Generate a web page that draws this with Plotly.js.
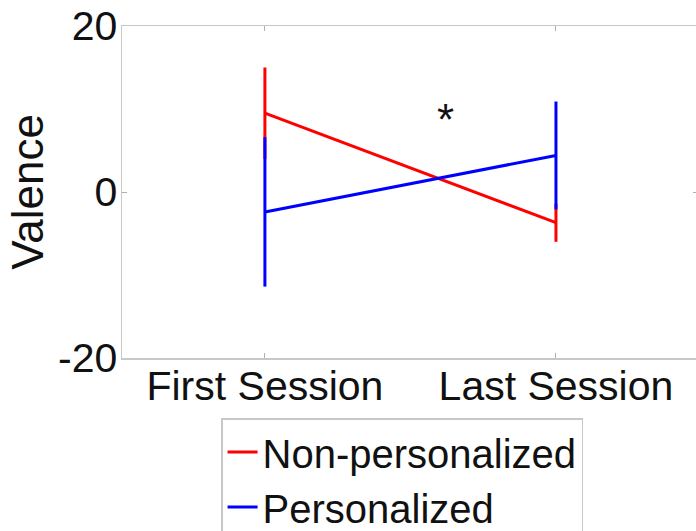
<!DOCTYPE html>
<html>
<head>
<meta charset="utf-8">
<script src="https://cdn.plot.ly/plotly-3.0.1.min.js"></script>
<style>
html,body{margin:0;padding:0;background:#fff;overflow:hidden;}
#chart{width:698px;height:531px;}
</style>
</head>
<body>
<div id="chart"></div>
<script>
// Data
var sessions = ['First Session', 'Last Session'];
var sessionPos = [1, 2];
var nonPersonalized = [9.5, -3.7];
var nonPersonalizedErr = [5.5, 2.3];
var personalized = [-2.4, 4.4];
var personalizedErr = [9.0, 6.5];
var yTicks = [-20, 0, 20];
var significance = {x: 1.62, y: 8.7, text: '*'};

var FONT = 'Liberation Sans, Arial, sans-serif';

var traces = [
  {
    x: sessionPos, y: nonPersonalized, name: 'Non-personalized',
    type: 'scatter', mode: 'lines',
    line: {color: '#ff0000', width: 3},
    error_y: {type: 'data', array: nonPersonalizedErr, visible: true, color: '#ff0000', thickness: 3, width: 0}
  },
  {
    x: sessionPos, y: personalized, name: 'Personalized',
    type: 'scatter', mode: 'lines',
    line: {color: '#0000ff', width: 3},
    error_y: {type: 'data', array: personalizedErr, visible: true, color: '#0000ff', thickness: 3, width: 0}
  }
];

var axisCommon = {
  showgrid: false, zeroline: false, showline: true, mirror: 'ticks',
  linecolor: '#c8c8c8', linewidth: 1.5, automargin: false,
  ticks: 'inside', ticklen: 5, tickcolor: '#b0b0b0', tickwidth: 1,
  tickfont: {family: FONT, size: 41, color: '#111'}
};

var layout = {
  width: 698, height: 531,
  margin: {l: 122, r: 0, t: 26, b: 173, autoexpand: false},
  paper_bgcolor: '#fff', plot_bgcolor: '#fff',
  showlegend: true,
  xaxis: Object.assign({}, axisCommon, {
    range: [0.509, 2.488],
    tickvals: sessionPos, ticktext: sessions,
    ticklabelstandoff: -9
  }),
  yaxis: Object.assign({}, axisCommon, {
    range: [-20, 20],
    tickvals: yTicks, ticktext: yTicks.map(String),
    ticklabelstandoff: -5,
    title: {text: 'Valence', font: {family: FONT, size: 44, color: '#111'}, standoff: 0}
  }),
  legend: {
    x: 0.172, y: -0.181, xanchor: 'left', yanchor: 'top',
    bgcolor: '#fff', bordercolor: '#c8c8c8', borderwidth: 1.5,
    font: {family: FONT, size: 40, color: '#111'}
  },
  annotations: [{
    x: significance.x, y: significance.y, xref: 'x', yref: 'y',
    text: significance.text, showarrow: false,
    font: {family: FONT, size: 44, color: '#111'},
    xanchor: 'center', yanchor: 'middle'
  }]
};

Plotly.newPlot('chart', traces, layout, {displayModeBar: false, staticPlot: true});
</script>
</body>
</html>
